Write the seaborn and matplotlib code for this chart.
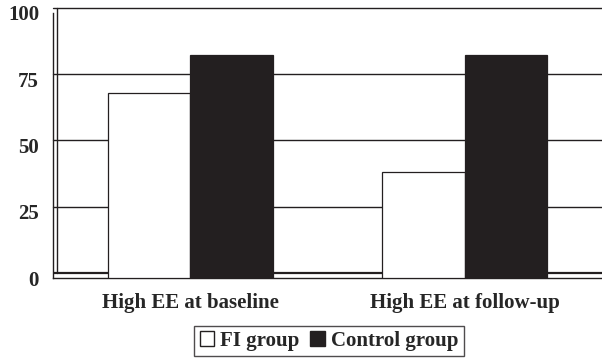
import matplotlib
matplotlib.use("Agg")
import matplotlib.pyplot as plt
import seaborn as sns
import pandas as pd
from matplotlib.patches import Patch

categories = ["High EE at baseline", "High EE at follow-up"]
groups = ["FI group", "Control group"]
fi_values = [70, 40]
control_values = [84, 84]
yticks = [0, 25, 50, 75, 100]

df = pd.DataFrame({
    "category": categories * 2,
    "group": [groups[0]] * 2 + [groups[1]] * 2,
    "value": fi_values + control_values,
})

sns.set_style("white")
plt.rcParams["font.family"] = ["Liberation Serif", "DejaVu Serif"]
plt.rcParams["font.weight"] = "bold"

FS = 15
INK = "#231f20"

fig = plt.figure(figsize=(6.02, 3.59), dpi=100)
ax = fig.add_axes([53 / 602, 1 - 278 / 359, 1 - 53 / 602, (278 - 13) / 359])

palette = {"FI group": "#ffffff", "Control group": INK}
sns.barplot(data=df, x="category", y="value", hue="group", palette=palette,
            width=0.6, edgecolor=INK, linewidth=0.9, ax=ax,
            legend=False, zorder=3, saturation=1)

ax.set_ylim(0, 100)
ax.set_xlim(-0.5, 1.5)
ax.set_yticks(yticks)
ax.set_yticklabels([str(t) for t in yticks], fontsize=FS, fontweight="bold")
ax.set_xticks([0, 1])
ax.set_xticklabels(categories, fontsize=FS, fontweight="bold")
ax.set_xticks([0.5], minor=True)
ax.tick_params(axis="x", which="major", length=0, pad=11)
ax.tick_params(axis="x", which="minor", length=4, width=1, color=INK, direction="out")
ax.tick_params(axis="y", length=4, width=1, color=INK, direction="out", pad=6)
ax.set_xlabel("")
ax.set_ylabel("")

off = 1.9
for t in [25, 50, 75, 100]:
    ax.axhline(t + off, color=INK, lw=1.0, zorder=1, clip_on=False)
ax.axhline(off, color=INK, lw=1.6, zorder=1)

for s in ["top", "right"]:
    ax.spines[s].set_visible(False)
ax.spines["left"].set_color(INK)
ax.spines["bottom"].set_color(INK)
ax.spines["left"].set_linewidth(1.0)
ax.spines["bottom"].set_linewidth(1.0)
ax.plot([0.008, 0.008], [0.019, 1.019], transform=ax.transAxes, color=INK,
        lw=1.0, clip_on=False, zorder=2)

handles = [Patch(facecolor="#ffffff", edgecolor=INK, label=groups[0]),
           Patch(facecolor=INK, edgecolor=INK, label=groups[1])]
leg = fig.legend(handles=handles, loc="center", bbox_to_anchor=(329 / 602, 1 - 341 / 359),
                 ncol=2, frameon=True, fancybox=False,
                 handlelength=0.7, handleheight=0.7, handletextpad=0.3,
                 columnspacing=0.5, borderpad=0.25, borderaxespad=0,
                 prop={"weight": "bold", "size": FS})
leg.get_frame().set_edgecolor(INK)
leg.get_frame().set_linewidth(1.0)

fig.savefig("out.png", dpi=100)
